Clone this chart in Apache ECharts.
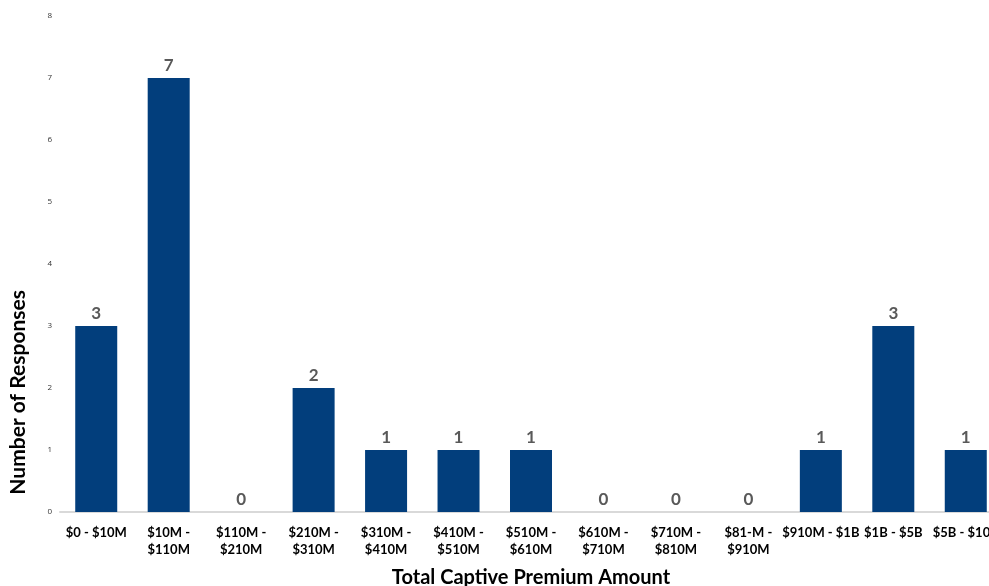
<!DOCTYPE html>
<html><head><meta charset="utf-8">
<script src="https://cdn.jsdelivr.net/npm/echarts@6/dist/echarts.min.js"></script>
<style>html,body{margin:0;padding:0;background:#fff}#c{width:989px;height:586px}</style>
</head><body><div id="c"></div>
<script>
const categories = ["$0 - $10M","$10M -\n$110M","$110M -\n$210M","$210M -\n$310M","$310M -\n$410M","$410M -\n$510M","$510M -\n$610M","$610M -\n$710M","$710M -\n$810M","$81-M -\n$910M","$910M - $1B","$1B - $5B","$5B - $10B"];
const responses = [3,7,0,2,1,1,1,0,0,0,1,3,1];
const yTicks = {min:0, max:8, interval:1};
const chart = echarts.init(document.getElementById('c'));
chart.setOption({
  animation:false,
  grid:{left:60, width:942, top:16, height:496, containLabel:false, outerBoundsMode:'none'},
  xAxis:{type:'category', data:categories,
    axisLine:{lineStyle:{color:'#d9d9d9', width:2}}, axisTick:{show:false},
    axisLabel:{color:'#000', fontWeight:'bold', fontSize:13, fontFamily:'Lato', margin:12, lineHeight:17, interval:0, overflow:'none'},
    name:'Total Captive Premium Amount', nameLocation:'middle', nameGap:56,
    nameTextStyle:{color:'#000', fontSize:20, fontWeight:'bold', fontFamily:'Lato'}},
  yAxis:{type:'value', min:yTicks.min, max:yTicks.max, interval:yTicks.interval,
    splitLine:{show:false}, axisLine:{show:false}, axisTick:{show:false},
    axisLabel:{color:'#333', fontSize:8, fontFamily:'Open Sans', margin:8}},
  graphic:[{type:'text', left:8, top:290, rotation:Math.PI/2,
    style:{text:'Number of Responses', fill:'#000', font:'bold 21px Lato'}}],
  series:[{type:'bar', data:responses, barWidth:42,
    itemStyle:{color:'#023e7c'},
    label:{show:true, position:'top', color:'#595959', fontWeight:'bold', fontSize:17, fontFamily:'Lato', distance:4}}]
});
</script></body></html>
